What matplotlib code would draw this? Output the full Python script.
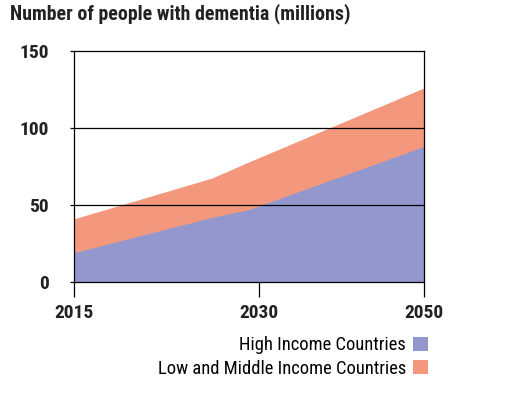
import matplotlib
matplotlib.use("Agg")
import matplotlib.pyplot as plt

plt.rcParams['font.family'] = ['Liberation Sans Narrow', 'Roboto Condensed',
                               'DejaVu Sans Condensed', 'Liberation Sans']

# data (millions)
years_top = [2015, 2028.8, 2032.5, 2050]
total = [41, 67.5, 78, 126]
years_high = [2015, 2028.8, 2032.5, 2050]
high_income = [19, 42, 47, 88]

tick_pos = [2015, 2033.5, 2050]
tick_labels = ['2015', '2030', '2050']
y_ticks = [0, 50, 100, 150]

blue = '#9297cd'
salmon = '#f4987d'

fig = plt.figure(figsize=(5.23, 3.94), dpi=100)
ax = fig.add_axes([0.1415, 0.2843, 0.669, 0.5863])

h1 = ax.fill_between(years_high, 0, high_income, color=blue, lw=0, zorder=1)
h2 = ax.fill_between(years_top, total, [0] * len(total), color=salmon, lw=0, zorder=0)

for y in [50, 100]:
    ax.axhline(y, color='black', lw=0.9, zorder=3)

ax.set_xlim(2015, 2050)
ax.set_ylim(0, 150)
ax.set_xticks(tick_pos)
ax.set_xticklabels(tick_labels, fontsize=14, fontweight='bold', color='#222222')
ax.set_yticks(y_ticks)
ax.set_yticklabels([str(v) for v in y_ticks], fontsize=14, fontweight='bold', color='#222222')
ax.tick_params(axis='x', length=11, width=0.9, pad=5)
ax.tick_params(axis='y', length=3, width=0.9, pad=15)
for s in ax.spines.values():
    s.set_linewidth(0.9)
    s.set_zorder(4)

fig.text(0.019, 0.965, 'Number of people with dementia (millions)',
         fontsize=14.3, fontweight='bold', color='#222222', va='center')

ax.legend([h1, h2], ['High Income Countries', 'Low and Middle Income Countries'],
          loc='upper right', bbox_to_anchor=(1.012, -0.235), markerfirst=False,
          frameon=False, fontsize=13.3, handlelength=0.8, handleheight=0.8,
          handletextpad=0.4, labelspacing=0.3, borderpad=0, borderaxespad=0)

fig.savefig('out.png', dpi=100)
